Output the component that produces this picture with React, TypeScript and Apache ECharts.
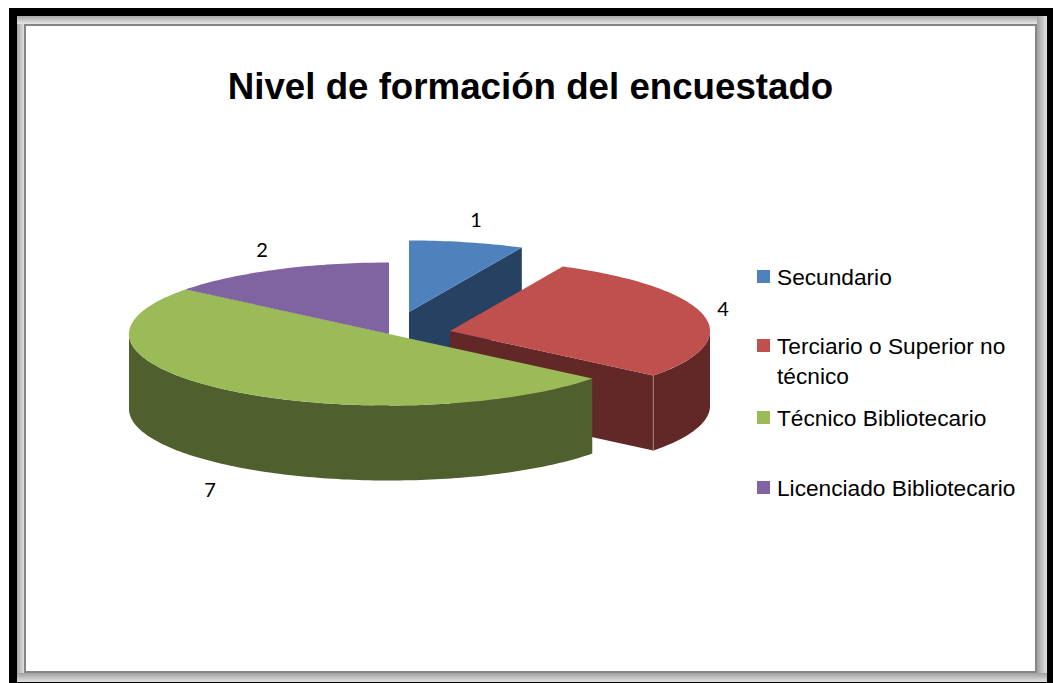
import React, { useEffect, useRef } from "react";
import * as echarts from "echarts";

const TITLE = "Nivel de formación del encuestado";
const CATEGORIES = ["Secundario", "Terciario o Superior no\ntécnico", "Técnico Bibliotecario", "Licenciado Bibliotecario"];
const VALUES = [1, 4, 7, 2];
const TOP_COLORS = ["#4f81bd", "#c0504d", "#9bbb59", "#8064a2"];
const WALL_COLORS = ["#264162", "#622727", "#4f5f2d", "#4c3c61"];
const APEX = [[409, 312], [450, 331], [389, 334], [389, 334]];
const LABEL_POS = [[476, 219], [723, 308], [210, 489], [262, 249]];
const LEGEND_POS = [265, 304, 406, 476];
const DRAW_ORDER = [0, 3, 1, 2];
const RX = 260;
const RY = 71.5;
const DEPTH = 75;
const FONT = "'Liberation Sans', Arial, sans-serif";

const TOTAL = VALUES.reduce((a, b) => a + b, 0);
const START_ANGLES = VALUES.map((_, i) => (VALUES.slice(0, i).reduce((a, b) => a + b, 0) / TOTAL) * Math.PI * 2);
const END_ANGLES = VALUES.map((_, i) => (VALUES.slice(0, i + 1).reduce((a, b) => a + b, 0) / TOTAL) * Math.PI * 2);

function rim(i: number, t: number, dy = 0): number[] {
  return [APEX[i][0] + RX * Math.sin(t), APEX[i][1] - RY * Math.cos(t) + dy];
}

function arcPoints(i: number, a: number, b: number, dy = 0): number[][] {
  const n = Math.max(2, Math.ceil(Math.abs(b - a) / 0.02));
  const pts: number[][] = [];
  for (let k = 0; k <= n; k++) pts.push(rim(i, a + ((b - a) * k) / n, dy));
  return pts;
}

function renderSlice(i: number) {
  const a = START_ANGLES[i];
  const b = END_ANGLES[i];
  const [ax, ay] = APEX[i];
  const children: any[] = [];
  const wall = { fill: WALL_COLORS[i] };
  const face = (t: number) => {
    const p = rim(i, t);
    children.push({
      type: "polygon",
      shape: { points: [[ax, ay], p, [p[0], p[1] + DEPTH], [ax, ay + DEPTH]] },
      style: wall,
    });
  };
  if (Math.sin(a) < -1e-6) face(a);
  if (Math.sin(b) > 1e-6) face(b);
  const wa = Math.max(a, Math.PI / 2);
  const wb = Math.min(b, (Math.PI * 3) / 2);
  if (wb > wa) {
    const upper = arcPoints(i, wa, wb);
    const lower = arcPoints(i, wa, wb, DEPTH).reverse();
    children.push({ type: "polygon", shape: { points: [...upper, ...lower] }, style: wall });
    if (Math.sin(b) > 1e-6 && b > Math.PI / 2) {
      const p = rim(i, b);
      children.push({
        type: "line",
        shape: { x1: p[0], y1: p[1], x2: p[0], y2: p[1] + DEPTH },
        style: { stroke: "#a58080", lineWidth: 1 },
      });
    }
  }
  children.push({
    type: "polygon",
    shape: { points: [[ax, ay], ...arcPoints(i, a, b)] },
    style: { fill: TOP_COLORS[i] },
  });
  children.push({
    type: "text",
    x: LABEL_POS[i][0],
    y: LABEL_POS[i][1],
    style: {
      text: String(VALUES[i]),
      fill: "#000",
      font: "20px Lato, 'Open Sans', sans-serif",
      align: "center",
      verticalAlign: "middle",
    },
  });
  return { type: "group", children };
}

function band(x: number, y: number, width: number, height: number, horizontal: boolean, from: string, to: string) {
  return {
    type: "rect",
    shape: { x, y, width, height },
    style: {
      fill: new echarts.graphic.LinearGradient(0, 0, horizontal ? 1 : 0, horizontal ? 0 : 1, [
        { offset: 0, color: from },
        { offset: 1, color: to },
      ]),
    },
    silent: true,
  };
}

function legendText(name: string): string {
  const lines = name.split("\n");
  const rich = lines.map((l) => `{t|${l}}`);
  return lines.length > 1 ? ["{t| }", ...rich].join("\n") : rich[0];
}

export default function App() {
  const ref = useRef<HTMLDivElement>(null);
  useEffect(() => {
    const chart = echarts.init(ref.current!, undefined, { renderer: "svg" });
    chart.setOption({
      animation: false,
      backgroundColor: "#ffffff",
      title: {
        text: TITLE,
        left: 525.5,
        top: 63,
        textAlign: "center",
        textStyle: { fontFamily: FONT, fontSize: 36.7, fontWeight: "bold", color: "#000" },
      },
      legend: CATEGORIES.map((name, i) => ({
        data: [name],
        left: 757,
        top: LEGEND_POS[i],
        padding: 0,
        itemWidth: 13,
        itemHeight: 13,
        icon: "rect",
        selectedMode: false,
        formatter: legendText,
        textStyle: {
          rich: {
            t: {
              fontFamily: FONT,
              fontSize: 22.7,
              color: "#000",
              lineHeight: 30,
              padding: [0, 0, 0, 2],
            },
          },
        },
      })),
      graphic: [
        { type: "rect", shape: { x: 9, y: 8, width: 1044, height: 675 }, style: { fill: "#000" }, silent: true },
        band(17, 16, 8, 658, true, "#a8a8a8", "#e6e6e6"),
        band(17, 16, 1020, 8, false, "#a8a8a8", "#e6e6e6"),
        band(1037, 16, 10, 666, true, "#a0a0a0", "#e2e2e2"),
        band(17, 673, 1030, 9, false, "#a0a0a0", "#e2e2e2"),
        { type: "rect", shape: { x: 24, y: 24, width: 1013, height: 649 }, style: { fill: "#858585" }, silent: true },
        { type: "rect", shape: { x: 26, y: 26, width: 1009, height: 645 }, style: { fill: "#fff" }, silent: true },
      ],
      series: DRAW_ORDER.map((i) => ({
        type: "custom",
        name: CATEGORIES[i],
        coordinateSystem: "none",
        itemStyle: { color: TOP_COLORS[i] },
        data: [VALUES[i]],
        silent: true,
        renderItem: () => renderSlice(i),
      })),
    });
    return () => chart.dispose();
  }, []);
  return <div ref={ref} style={{ position: "absolute", left: 0, top: 0, width: 1053, height: 683 }} />;
}
